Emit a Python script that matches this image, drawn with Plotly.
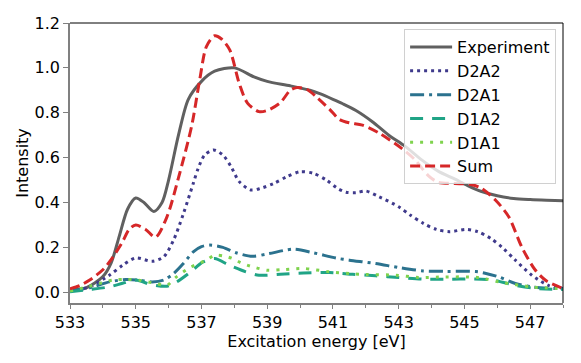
import plotly.graph_objects as go

# ---- data ----
exp_x = [533.0, 533.5, 534.0, 534.25, 534.5, 534.75, 535.0, 535.25, 535.55, 535.8, 536.0, 536.3, 536.6,
         537.0, 537.4, 538.0, 538.6, 539.0, 539.7, 540.3, 540.6, 541.0, 541.3, 541.7, 542.2, 542.7,
         543.2, 543.7, 544.2, 544.7, 545.1, 545.5, 546.0, 546.5, 547.0, 547.5, 548.0]
exp_y = [0.01, 0.02, 0.07, 0.13, 0.25, 0.37, 0.42, 0.40, 0.36, 0.40, 0.50, 0.70, 0.86,
         0.94, 0.985, 1.0, 0.96, 0.94, 0.92, 0.90, 0.885, 0.86, 0.84, 0.81, 0.76, 0.70,
         0.65, 0.59, 0.54, 0.505, 0.475, 0.45, 0.43, 0.418, 0.413, 0.41, 0.408]

d2a2_x = [533.0, 533.6, 534.2, 534.6, 535.0, 535.5, 535.85, 536.15, 536.45, 536.75, 536.9, 537.1, 537.37,
          537.65, 537.9, 538.15, 538.5, 538.8, 539.2, 539.6, 540.0, 540.4, 540.8, 541.15, 541.4, 541.7,
          542.0, 542.4, 543.0, 543.35, 543.75, 544.15, 544.55, 545.05, 545.4, 545.8, 546.15, 546.55,
          547.05, 547.55, 548.0]
d2a2_y = [0.005, 0.024, 0.076, 0.12, 0.153, 0.138, 0.158, 0.232, 0.35, 0.485, 0.552, 0.612, 0.634,
          0.612, 0.56, 0.493, 0.456, 0.463, 0.485, 0.515, 0.537, 0.53, 0.50, 0.462, 0.446, 0.444,
          0.451, 0.426, 0.381, 0.344, 0.307, 0.28, 0.27, 0.28, 0.27, 0.24, 0.20, 0.143,
          0.076, 0.031, 0.017]

d2a1_x = [533.0, 533.6, 534.2, 534.7, 535.1, 535.5, 535.85, 536.15, 536.45, 536.75, 537.0, 537.25, 537.65,
          538.05, 538.55, 539.05, 539.8, 540.4, 541.1, 541.5, 542.3, 543.0, 543.75, 544.45, 545.35,
          545.6, 546.05, 546.55, 547.05, 548.0]
d2a1_y = [0.009, 0.02, 0.046, 0.057, 0.054, 0.046, 0.054, 0.083, 0.128, 0.18, 0.203, 0.21, 0.20,
          0.176, 0.16, 0.172, 0.192, 0.176, 0.152, 0.143, 0.128, 0.11, 0.095, 0.093, 0.092,
          0.086, 0.068, 0.039, 0.024, 0.015]

d1a2_x = [533.0, 533.6, 534.2, 534.6, 535.0, 535.5, 535.95, 536.25, 536.65, 537.05, 537.4, 537.85, 538.35,
          538.75, 539.4, 540.1, 540.9, 541.6, 542.3, 543.0, 543.8, 544.45, 545.3, 545.85, 546.55,
          547.15, 548.0]
d1a2_y = [0.002, 0.012, 0.024, 0.04, 0.054, 0.033, 0.027, 0.046, 0.088, 0.135, 0.15, 0.12, 0.091,
          0.076, 0.08, 0.086, 0.088, 0.08, 0.073, 0.066, 0.058, 0.058, 0.059, 0.054, 0.031,
          0.017, 0.012]

d1a1_x = [533.0, 533.7, 534.3, 534.7, 535.1, 535.6, 535.95, 536.2, 536.65, 537.15, 537.4, 537.7, 537.95,
          538.2, 538.5, 539.0, 539.5, 540.1, 540.9, 541.5, 542.0, 542.9, 543.6, 544.4, 545.15, 545.5,
          546.05, 547.05, 548.0]
d1a1_y = [0.005, 0.031, 0.054, 0.057, 0.054, 0.039, 0.031, 0.064, 0.11, 0.143, 0.165, 0.161, 0.15,
          0.131, 0.116, 0.098, 0.101, 0.106, 0.091, 0.083, 0.079, 0.076, 0.066, 0.068, 0.068, 0.064,
          0.046, 0.024, 0.015]

sum_x = [533.0, 533.3, 533.6, 534.0, 534.2, 534.57, 534.8, 535.0, 535.3, 535.6, 535.95, 536.3, 536.7,
         536.95, 537.15, 537.4, 537.6, 537.86, 538.15, 538.4, 538.75, 539.0, 539.4, 539.7, 539.9,
         540.2, 540.5, 540.9, 541.2, 541.5, 541.9, 542.4, 543.1, 543.5, 543.9, 544.2, 544.7, 545.2,
         545.5, 545.95, 546.35, 546.75, 547.15, 547.5, 548.0]
sum_y = [0.015, 0.03, 0.054, 0.10, 0.135, 0.217, 0.28, 0.30, 0.28, 0.245, 0.336, 0.51, 0.74,
         0.95, 1.095, 1.143, 1.13, 1.08, 0.93, 0.843, 0.805, 0.81, 0.845, 0.90, 0.912,
         0.905, 0.87, 0.815, 0.77, 0.755, 0.745, 0.71, 0.64, 0.59, 0.52, 0.49, 0.485, 0.48,
         0.465, 0.41, 0.336, 0.20, 0.10, 0.05, 0.017]

x_ticks = [533, 535, 537, 539, 541, 543, 545, 547]
y_ticks = [0.0, 0.2, 0.4, 0.6, 0.8, 1.0, 1.2]

FONT = "DejaVu Sans"

fig = go.Figure()

def add(x, y, name, color, dash, width):
    fig.add_trace(go.Scatter(
        x=x, y=y, name=name, mode="lines",
        line=dict(color=color, dash=dash, width=width, shape="spline", smoothing=0.8),
    ))

add(exp_x, exp_y, "Experiment", "#606060", "solid", 3)
add(d2a2_x, d2a2_y, "D2A2", "#3f3a8c", "3px,4px", 3)
add(d2a1_x, d2a1_y, "D2A1", "#2b728e", "14px,5px,3px,5px", 3)
add(d1a2_x, d1a2_y, "D1A2", "#20a486", "13px,9px", 3)
add(d1a1_x, d1a1_y, "D1A1", "#7fd34e", "3px,7px", 3)
add(sum_x, sum_y, "Sum", "#d62728", "10px,5px", 3)

# page body has an 8px default margin: figure is sized/offset to compensate
fig.update_layout(
    width=573, height=355,
    margin=dict(l=62, r=18, t=15, b=60, autoexpand=False),
    paper_bgcolor="white", plot_bgcolor="white",
    font=dict(family=FONT, size=16, color="black"),
    showlegend=True,
    legend=dict(
        x=0.986, y=0.978, xanchor="right", yanchor="top",
        bgcolor="rgba(255,255,255,0.8)", bordercolor="#d0d0d0", borderwidth=1,
        font=dict(family=FONT, size=16), tracegroupgap=0,
        itemwidth=42,
    ),
)

fig.update_xaxes(
    range=[533, 548], tickvals=x_ticks, ticktext=[str(v) for v in x_ticks],
    showgrid=False, zeroline=False,
    showline=True, linecolor="#808080", linewidth=1.5,
    ticks="outside", ticklen=4, tickcolor="#808080", tickwidth=1,
    minor=dict(dtick=1, tick0=533, ticks="outside", ticklen=3, tickcolor="#808080", showgrid=False),
    title=dict(text="Excitation energy [eV]", font=dict(size=16), standoff=3),
    tickfont=dict(size=16),
)
fig.update_yaxes(
    range=[-0.048, 1.2], tickvals=y_ticks, ticktext=[f"{v:.1f}" for v in y_ticks],
    showgrid=False, zeroline=False,
    showline=True, linecolor="#808080", linewidth=1.5,
    ticks="outside", ticklen=5, tickcolor="#808080", tickwidth=1,
    title=dict(text="Intensity", font=dict(size=16), standoff=2),
    tickfont=dict(size=16),
)

# top and right spines (black)
fig.add_shape(type="line", xref="paper", yref="paper", x0=0, x1=1, y0=1, y1=1,
              line=dict(color="black", width=1))
fig.add_shape(type="line", xref="paper", yref="paper", x0=1, x1=1, y0=0, y1=1,
              line=dict(color="black", width=1))

fig.write_html("out.html")
